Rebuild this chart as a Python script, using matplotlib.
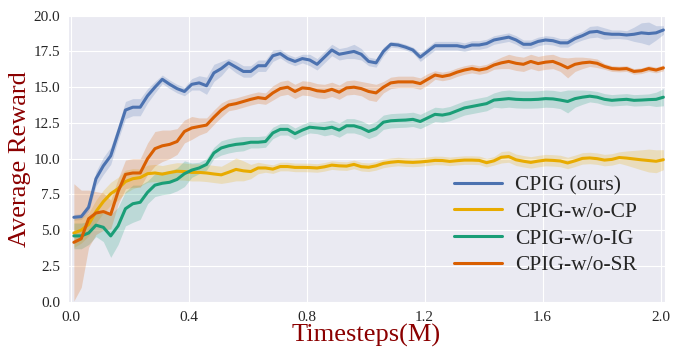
import numpy as np
import matplotlib
matplotlib.use('Agg')
import matplotlib.pyplot as plt
import seaborn as sns

# timesteps (M), one sample every 0.025M
steps = np.round(np.arange(81) * 0.025 + 0.01, 3)

cpig = [5.9, 5.95, 6.6, 8.6, 9.5, 10.2, 11.8, 13.4, 13.6, 13.6,
        14.4, 15.0, 15.55, 15.2, 14.9, 14.7, 15.2, 15.3, 15.1, 16.0,
        16.3, 16.7, 16.4, 16.1, 16.1, 16.5, 16.5, 17.2, 17.35, 17.0,
        16.8, 17.0, 16.9, 16.6, 17.1, 17.6, 17.3, 17.4, 17.5, 17.3,
        16.8, 16.7, 17.5, 18.0, 17.95, 17.8, 17.6, 17.1, 17.5, 17.9,
        17.9, 17.9, 17.9, 17.8, 17.95, 17.95, 18.05, 18.3, 18.4, 18.5,
        18.3, 18.0, 18.0, 18.2, 18.3, 18.25, 18.1, 18.1, 18.4, 18.6,
        18.85, 18.9, 18.75, 18.7, 18.7, 18.65, 18.7, 18.8, 18.75, 18.8,
        19.0]
cpig_sd = [0.2, 0.2, 0.3, 0.5, 0.6, 0.6, 0.5, 0.6, 0.6, 0.6,
           0.5, 0.4, 0.3, 0.3, 0.3, 0.3, 0.4, 0.5, 0.6, 0.6,
           0.5, 0.3, 0.4, 0.4, 0.4, 0.4, 0.4, 0.4, 0.3, 0.3,
           0.3, 0.3, 0.4, 0.4, 0.4, 0.4, 0.4, 0.4, 0.5, 0.4,
           0.3, 0.3, 0.3, 0.2, 0.2, 0.2, 0.2, 0.3, 0.3, 0.3,
           0.3, 0.3, 0.3, 0.3, 0.3, 0.3, 0.3, 0.3, 0.3, 0.3,
           0.3, 0.3, 0.3, 0.3, 0.3, 0.3, 0.3, 0.3, 0.3, 0.3,
           0.4, 0.4, 0.4, 0.3, 0.3, 0.3, 0.5, 0.7, 0.8, 0.5,
           0.3]

no_cp = [4.8, 5.0, 5.4, 6.3, 7.0, 7.55, 7.9, 8.4, 8.6, 8.68,
         8.95, 9.0, 8.92, 9.03, 9.12, 9.1, 9.04, 9.04, 9.0, 8.93,
         8.87, 9.05, 9.25, 9.15, 9.1, 9.35, 9.35, 9.27, 9.45, 9.45,
         9.39, 9.39, 9.38, 9.35, 9.43, 9.55, 9.5, 9.48, 9.6, 9.44,
         9.4, 9.5, 9.67, 9.75, 9.8, 9.76, 9.74, 9.77, 9.82, 9.88,
         9.87, 9.81, 9.86, 9.9, 9.9, 9.88, 9.72, 9.85, 10.1, 10.15,
         9.92, 9.82, 9.74, 9.83, 9.9, 9.88, 9.84, 9.7, 9.85, 10.02,
         10.05, 10.0, 9.9, 9.95, 10.08, 10.04, 9.98, 9.92, 9.87, 9.82,
         9.93]
no_cp_sd = [1.0, 0.9, 0.8, 0.8, 0.8, 0.8, 0.8, 0.8, 0.7, 0.6,
            0.6, 0.6, 0.6, 0.6, 0.6, 0.6, 0.6, 0.6, 0.6, 0.6,
            0.6, 0.7, 0.8, 0.7, 0.5, 0.4, 0.3, 0.3, 0.3, 0.3,
            0.3, 0.3, 0.3, 0.3, 0.3, 0.3, 0.3, 0.3, 0.3, 0.3,
            0.3, 0.3, 0.3, 0.3, 0.3, 0.3, 0.3, 0.3, 0.3, 0.3,
            0.3, 0.3, 0.3, 0.3, 0.3, 0.3, 0.3, 0.3, 0.4, 0.4,
            0.4, 0.4, 0.4, 0.4, 0.4, 0.4, 0.4, 0.4, 0.4, 0.4,
            0.4, 0.4, 0.4, 0.4, 0.4, 0.5, 0.6, 0.7, 0.8, 0.8,
            0.7]

no_ig = [4.6, 4.6, 4.8, 5.35, 5.2, 4.6, 5.3, 6.5, 6.85, 6.95,
         7.65, 8.15, 8.28, 8.35, 8.55, 8.95, 9.2, 9.35, 9.6, 10.4,
         10.75, 10.9, 11.0, 11.05, 11.15, 11.15, 11.2, 11.8, 12.05, 12.05,
         11.75, 12.0, 12.2, 12.15, 12.1, 12.2, 12.0, 12.3, 12.3, 12.15,
         11.9, 12.1, 12.55, 12.65, 12.68, 12.7, 12.75, 12.6, 12.85, 13.1,
         13.05, 13.15, 13.35, 13.55, 13.65, 13.75, 13.85, 14.1, 14.15, 14.2,
         14.15, 14.13, 14.13, 14.15, 14.2, 14.18, 14.1, 14.0, 14.2, 14.3,
         14.37, 14.3, 14.15, 14.08, 14.12, 14.15, 14.08, 14.1, 14.13, 14.15,
         14.3]
no_ig_sd = [0.9, 0.9, 0.8, 0.8, 1.0, 1.5, 1.3, 1.2, 1.3, 1.2,
            0.8, 0.8, 0.8, 0.8, 0.8, 0.9, 0.5, 0.4, 0.4, 0.4,
            0.5, 0.5, 0.5, 0.5, 0.4, 0.4, 0.4, 0.4, 0.4, 0.4,
            0.4, 0.4, 0.4, 0.4, 0.5, 0.5, 0.5, 0.5, 0.5, 0.5,
            0.5, 0.5, 0.5, 0.5, 0.5, 0.5, 0.5, 0.5, 0.5, 0.5,
            0.5, 0.5, 0.5, 0.5, 0.5, 0.5, 0.5, 0.5, 0.6, 0.6,
            0.6, 0.6, 0.6, 0.6, 0.6, 0.6, 0.6, 0.8, 0.6, 0.5,
            0.4, 0.4, 0.4, 0.4, 0.4, 0.4, 0.4, 0.4, 0.4, 0.5,
            0.6]

no_sr = [4.15, 4.4, 5.8, 6.2, 6.3, 6.1, 7.7, 8.9, 9.0, 9.0,
         10.0, 10.7, 10.9, 11.0, 11.2, 11.9, 12.15, 12.25, 12.35, 12.9,
         13.4, 13.75, 13.85, 14.0, 14.15, 14.27, 14.2, 14.6, 14.9, 15.0,
         14.7, 14.95, 14.9, 14.75, 14.7, 14.85, 14.65, 14.95, 15.0, 14.9,
         14.7, 14.6, 15.0, 15.3, 15.37, 15.37, 15.37, 15.25, 15.55, 15.85,
         15.75, 15.85, 16.05, 16.2, 16.3, 16.2, 16.3, 16.55, 16.7, 16.8,
         16.67, 16.6, 16.8, 16.65, 16.75, 16.8, 16.6, 16.35, 16.6, 16.7,
         16.75, 16.67, 16.45, 16.3, 16.27, 16.3, 16.1, 16.15, 16.3, 16.2,
         16.35]
no_sr_sd = [4.1, 3.4, 2.0, 1.5, 1.3, 1.0, 0.9, 1.0, 1.0, 1.0,
            1.1, 1.2, 1.1, 1.0, 0.9, 0.8, 0.8, 0.6, 0.5, 0.5,
            0.5, 0.4, 0.4, 0.4, 0.4, 0.4, 0.4, 0.5, 0.5, 0.5,
            0.5, 0.5, 0.5, 0.5, 0.5, 0.5, 0.5, 0.5, 0.5, 0.5,
            0.6, 0.6, 0.4, 0.4, 0.4, 0.4, 0.4, 0.4, 0.4, 0.3,
            0.3, 0.3, 0.3, 0.3, 0.3, 0.3, 0.3, 0.3, 0.4, 0.5,
            0.5, 0.5, 0.5, 0.5, 0.5, 0.5, 0.5, 0.7, 0.5, 0.4,
            0.3, 0.3, 0.2, 0.2, 0.2, 0.2, 0.2, 0.2, 0.2, 0.2,
            0.2]

labels = ['CPIG (ours)', 'CPIG-w/o-CP', 'CPIG-w/o-IG', 'CPIG-w/o-SR']
colors = ['#4c72b0', '#e8ab00', '#1a9e77', '#d95f02']

sns.set_style('darkgrid')
plt.rcParams['font.family'] = ['Liberation Serif', 'DejaVu Serif']

fig = plt.figure(figsize=(6.73, 3.48), dpi=100)
ax = fig.add_axes([0.101, 0.129, 0.887, 0.828])

series = [(cpig, cpig_sd), (no_cp, no_cp_sd), (no_ig, no_ig_sd), (no_sr, no_sr_sd)]
for (mean, sd), lab, c in zip(series, labels, colors):
    mean = np.array(mean)
    sd = np.array(sd)
    ax.fill_between(steps, mean - sd, mean + sd, color=c, alpha=0.22, linewidth=0)
    ax.plot(steps, mean, color=c, linewidth=2.2, label=lab)

ax.set_xlim(-0.01, 2.015)
ax.set_ylim(-0.1, 20.05)
ax.set_xticks([0.0, 0.4, 0.8, 1.2, 1.6, 2.0])
ax.set_yticks(np.arange(0, 20.1, 2.5))
ax.yaxis.set_major_formatter(matplotlib.ticker.FormatStrFormatter('%.1f'))
ax.tick_params(labelsize=11, colors='#262626', pad=2)

ax.set_xlabel('Timesteps(M)', fontsize=19, color='#8b0000', labelpad=0)
ax.set_ylabel('Average Reward', fontsize=19, color='#8b0000', labelpad=2)

ax.legend(loc='lower right', bbox_to_anchor=(0.985, 0.03), frameon=False,
          fontsize=15.5, handlelength=2.2, handletextpad=0.6, labelspacing=0.3)

fig.savefig('out.png', dpi=100)
